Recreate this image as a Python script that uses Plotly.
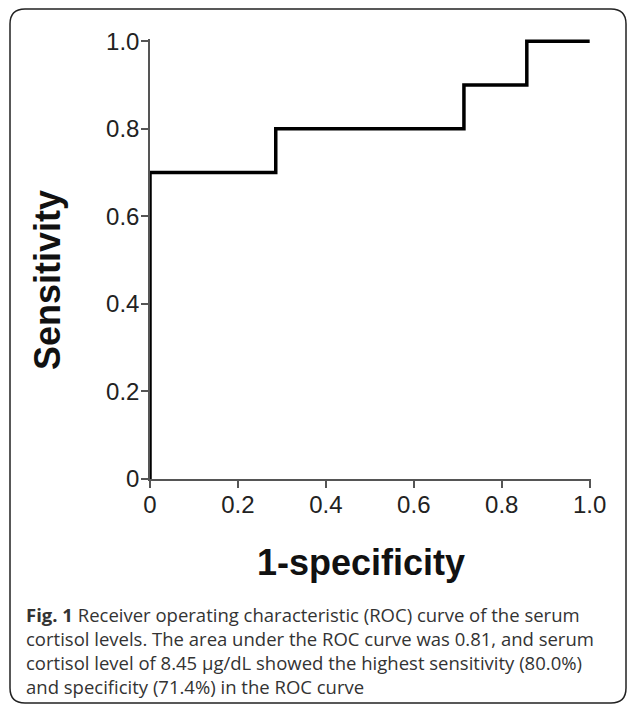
import plotly.graph_objects as go

# ROC curve data (1-specificity, sensitivity), step form
fpr = [0.0, 0.0, 0.286, 0.286, 0.714, 0.714, 0.857, 0.857, 1.0]
tpr = [0.0, 0.7, 0.7, 0.8, 0.8, 0.9, 0.9, 1.0, 1.0]

tick_vals = [0, 0.2, 0.4, 0.6, 0.8, 1.0]
tick_text = ["0", "0.2", "0.4", "0.6", "0.8", "1.0"]

x_title = "1-specificity"
y_title = "Sensitivity"
caption_lines = [
    "<b>Fig. 1</b> Receiver operating characteristic (ROC) curve of the serum",
    "cortisol levels. The area under the ROC curve was 0.81, and serum",
    "cortisol level of 8.45 μg/dL showed the highest sensitivity (80.0%)",
    "and specificity (71.4%) in the ROC curve",
]

W, H = 627, 704
L, R, T, B = 150, 591, 39, 479  # plot area pixels


def px(p):
    return (p - L) / (R - L)


def py(p):
    return (B - p) / (B - T)


fig = go.Figure()
fig.add_trace(go.Scatter(x=fpr, y=tpr, mode="lines",
                         line=dict(color="black", width=3.5),
                         hoverinfo="skip", showlegend=False))

axis_common = dict(
    showgrid=False, zeroline=False, showline=True, linecolor="#555555",
    linewidth=1.5, ticks="outside", ticklen=7, tickwidth=1.5,
    tickcolor="#555555", tickvals=tick_vals, ticktext=tick_text,
    tickfont=dict(family="Liberation Sans", size=24, color="#222222"),
)

fig.update_layout(
    width=W, height=H,
    margin=dict(l=L, r=W - R, t=T, b=H - B, autoexpand=False),
    paper_bgcolor="white", plot_bgcolor="white",
    xaxis=dict(range=[0, 1.003], ticklabelstandoff=-4, **axis_common),
    yaxis=dict(range=[0, 1.005], ticklabelstandoff=-3, **axis_common),
)

annotations = [
    dict(text="<b>%s</b>" % x_title, x=px(361), y=py(562), xref="paper", yref="paper",
         xanchor="center", yanchor="middle", showarrow=False,
         font=dict(family="Liberation Sans", size=36, color="#111111")),
    dict(text="<b>%s</b>" % y_title, x=px(47), y=py(280), xref="paper", yref="paper",
         xanchor="center", yanchor="middle", showarrow=False, textangle=-90,
         font=dict(family="Liberation Sans", size=36, color="#111111")),
]
line_y = [614, 638, 662, 686]
for txt, yy in zip(caption_lines, line_y):
    annotations.append(dict(text=txt, x=px(24), y=py(yy), xref="paper", yref="paper",
                            xanchor="left", yanchor="middle", showarrow=False,
                            font=dict(family="Open Sans", size=18.5, color="#333333")))
fig.update_layout(annotations=annotations)

# rounded border box
x0, x1, y0, y1, r = 10, 626, 9, 703, 15
path = (f"M {px(x0)},{py(y0 + r)} Q {px(x0)},{py(y0)} {px(x0 + r)},{py(y0)} "
        f"L {px(x1 - r)},{py(y0)} Q {px(x1)},{py(y0)} {px(x1)},{py(y0 + r)} "
        f"L {px(x1)},{py(y1 - r)} Q {px(x1)},{py(y1)} {px(x1 - r)},{py(y1)} "
        f"L {px(x0 + r)},{py(y1)} Q {px(x0)},{py(y1)} {px(x0)},{py(y1 - r)} Z")
fig.add_shape(type="path", path=path, xref="paper", yref="paper",
              line=dict(color="#222222", width=1.5), layer="below")

fig.write_html("out.html",
               config={"displayModeBar": False},
               post_script="document.body.style.margin='0px';"
                           "document.body.style.overflow='hidden';")
